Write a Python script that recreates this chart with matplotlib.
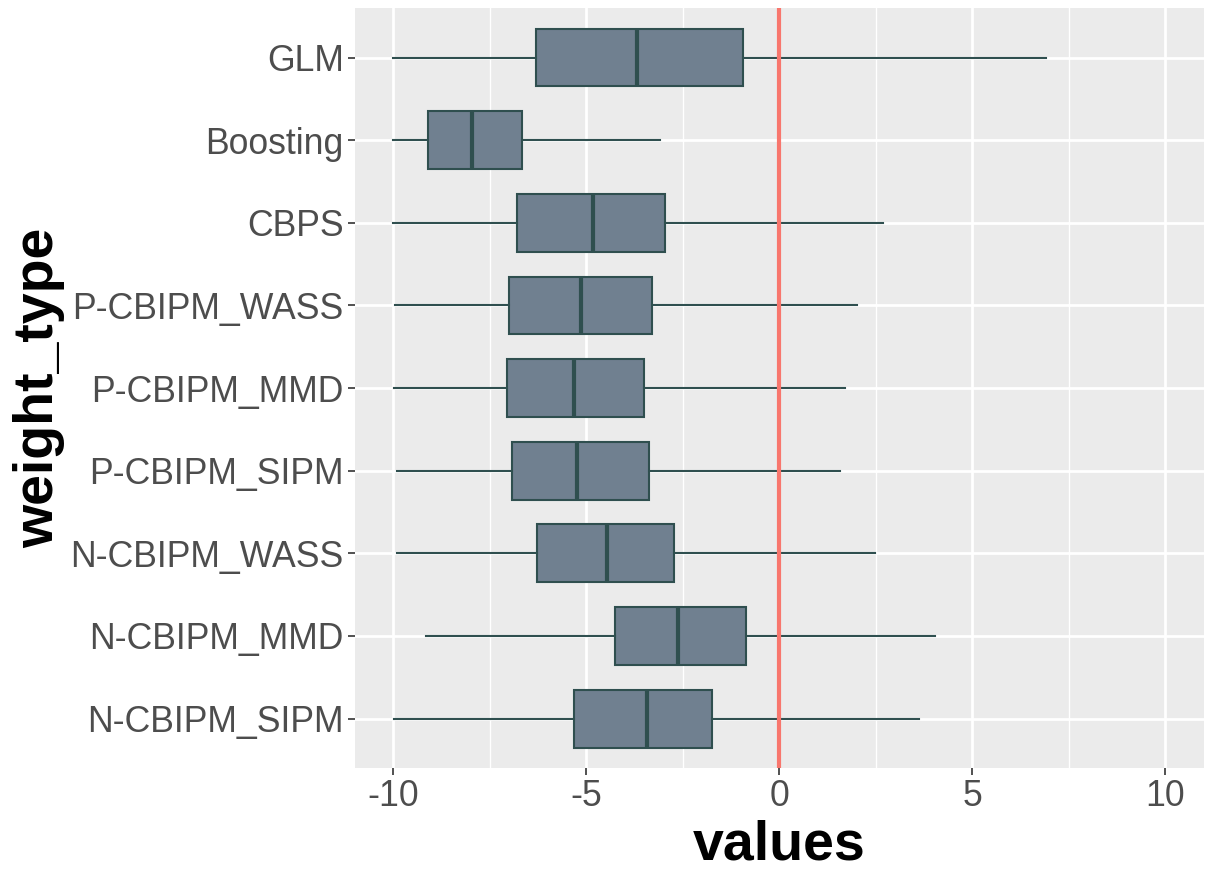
import matplotlib
matplotlib.use("Agg")
import matplotlib.pyplot as plt

# weight types, top to bottom as in the chart
weight_types = ["GLM", "Boosting", "CBPS", "P-CBIPM_WASS", "P-CBIPM_MMD",
                "P-CBIPM_SIPM", "N-CBIPM_WASS", "N-CBIPM_MMD", "N-CBIPM_SIPM"]

# boxplot summaries
whisker_low = [-10.0, -10.0, -10.0, -9.95, -9.98, -9.91, -9.91, -9.16, -9.99]
q1 = [-6.31, -9.11, -6.80, -7.00, -7.06, -6.93, -6.28, -4.26, -5.32]
median = [-3.68, -7.97, -4.83, -5.14, -5.32, -5.24, -4.47, -2.63, -3.43]
q3 = [-0.94, -6.67, -2.96, -3.29, -3.52, -3.38, -2.74, -0.86, -1.74]
whisker_high = [6.91, -3.10, 2.69, 2.01, 1.70, 1.57, 2.48, 4.02, 3.61]

x_ticks = [-10, -5, 0, 5, 10]
x_minor = [-7.5, -2.5, 2.5, 7.5]

plt.rcParams['font.family'] = ['Liberation Sans', 'DejaVu Sans']

fig = plt.figure(figsize=(12.15, 8.83), dpi=100)
ax = fig.add_axes([0.292, 0.130, 0.699, 0.861])

n = len(weight_types)
positions = list(range(n, 0, -1))

stats = []
for i in range(n):
    stats.append({
        "whislo": whisker_low[i], "q1": q1[i], "med": median[i],
        "q3": q3[i], "whishi": whisker_high[i], "fliers": [],
    })

edge = "#2F4F4F"
ax.bxp(stats, positions=positions, vert=False, widths=0.7, patch_artist=True,
       showcaps=False, showfliers=False,
       boxprops=dict(facecolor="#708090", edgecolor=edge, linewidth=1.5),
       whiskerprops=dict(color=edge, linewidth=1.5),
       medianprops=dict(color=edge, linewidth=3),
       zorder=3)

ax.axvline(0, color="#F8766D", linewidth=3, zorder=4)

ax.set_xlim(-11, 11)
ax.set_ylim(0.4, n + 0.6)
ax.set_facecolor("#EBEBEB")
ax.set_xticks(x_ticks)
ax.set_xticklabels([str(t) for t in x_ticks])
ax.set_xticks(x_minor, minor=True)
ax.set_yticks(positions)
ax.set_yticklabels(weight_types)

ax.grid(which="major", color="white", linewidth=2, zorder=0)
ax.grid(which="minor", axis="x", color="white", linewidth=1, zorder=0)
ax.set_axisbelow(True)
for s in ax.spines.values():
    s.set_visible(False)

ax.tick_params(axis="both", which="major", labelsize=25.7, labelcolor="#4D4D4D",
               color="#333333", length=5, width=1.2, pad=3)
ax.tick_params(which="minor", length=0)

ax.set_xlabel("values", fontsize=40, fontweight="bold", color="black", labelpad=4)
ax.set_ylabel("weight_type", fontsize=40, fontweight="bold", color="black", labelpad=4)

fig.savefig("out.png", dpi=100)
